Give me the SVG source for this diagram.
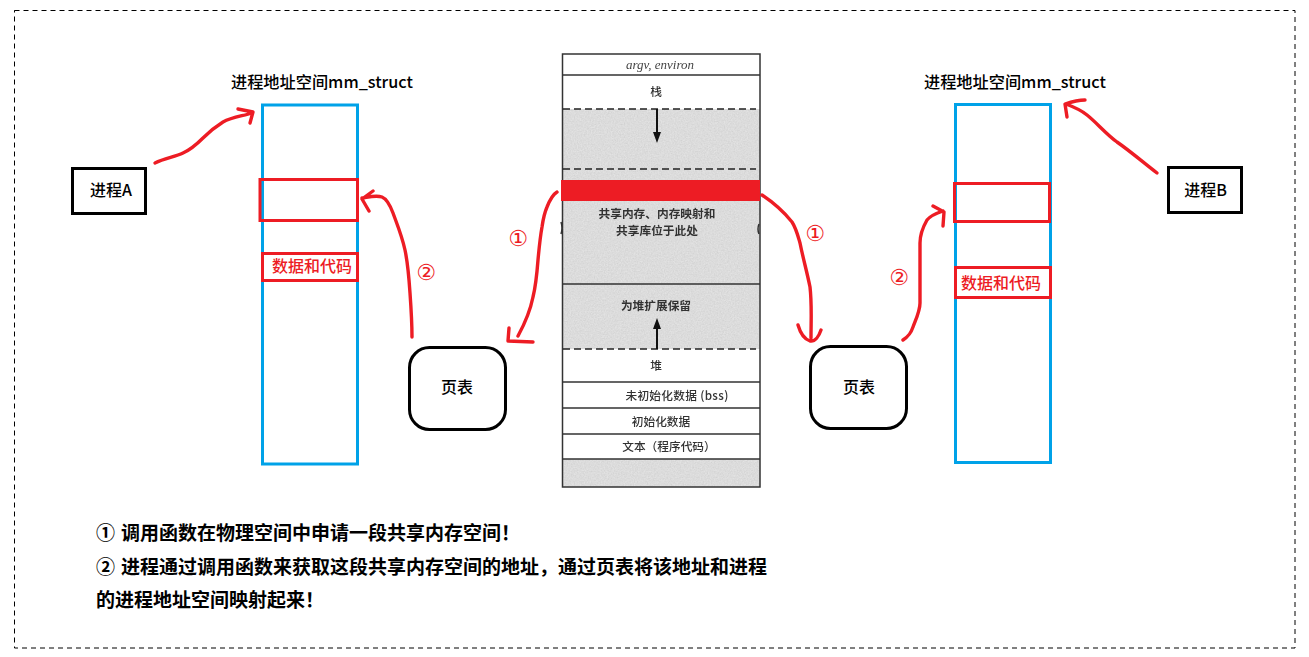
<svg xmlns="http://www.w3.org/2000/svg" width="1309" height="657" viewBox="0 0 1309 657">
<defs>
<filter id="grain" x="0" y="0" width="100%" height="100%">
<feTurbulence type="fractalNoise" baseFrequency="0.7" numOctaves="2" seed="4"/>
<feColorMatrix type="matrix" values="0 0 0 0 0.5  0 0 0 0 0.5  0 0 0 0 0.5  0.5 0.5 0 0 -0.32"/>
<feComposite in2="SourceGraphic" operator="in" result="n"/>
<feGaussianBlur in="n" stdDeviation="0.5" result="b"/>
<feMerge><feMergeNode in="SourceGraphic"/><feMergeNode in="b"/></feMerge>
</filter>
<filter id="soft" x="-5%" y="-20%" width="110%" height="140%"><feGaussianBlur stdDeviation="0.35"/></filter>
<style>
text{font-family:"Noto Sans CJK SC","Noto Sans",sans-serif;}
.t{font-size:16.2px;font-weight:500;fill:#000;}
.lab{font-size:16px;font-weight:500;fill:#000;text-anchor:middle;}
.red{font-size:16px;font-weight:500;fill:#ed1c24;text-anchor:middle;}
.num{font-size:22px;fill:#ed1c24;text-anchor:middle;font-family:"DejaVu Sans",sans-serif;}
.note{font-size:19px;font-weight:700;fill:#000;}
.bk{font-size:11.7px;font-weight:500;fill:#333;text-anchor:middle;}
.bb{font-weight:700;}
.blue{fill:#fff;stroke:#00a2e8;stroke-width:3;}
.rbox{fill:none;stroke:#ed1c24;stroke-width:3;}
.pbox{fill:#fff;stroke:#000;stroke-width:3;}
.pg{fill:#fff;stroke:#000;stroke-width:3;}
.ln{stroke:#333;stroke-width:1.5;fill:none;}
.ds{stroke:#222;stroke-width:1.5;fill:none;stroke-dasharray:7 4;}
.arr{fill:none;stroke:#ed1c24;stroke-width:3.4;stroke-linecap:round;stroke-linejoin:round;}
</style>
</defs>
<rect id="frame" x="14.5" y="10.500" width="1280.500" height="637.500" fill="none" stroke="#000" stroke-dasharray="5 4"/>

<g id="memory-map">
<rect x="562.500" y="54" width="197.500" height="433" fill="#fff"/>
<rect x="563" y="109" width="197" height="240" fill="#e2e2e2" filter="url(#grain)"/>
<rect x="563" y="459" width="197" height="28" fill="#e2e2e2" filter="url(#grain)"/>
<rect x="562.500" y="54" width="197.500" height="433" fill="none" stroke="#333" stroke-width="1.500"/>
<path class="ln" d="M563 75H760M563 284H760M563 382H760M563 408H760M563 434H760M563 459H760"/>
<path class="ds" d="M563 109H756M563 169H756M563 349H756"/>
<path d="M657 109V134" stroke="#111" stroke-width="2" fill="none"/>
<path d="M653 132H661L657 143Z" fill="#111"/>
<path d="M657 349V326" stroke="#111" stroke-width="2" fill="none"/>
<path d="M653 329H661L657 318Z" fill="#111"/>
<path d="M561 222Q563 228 561 234M759 224Q757 229 759 234" fill="none" stroke="#333" stroke-width="1.500"/>
<g filter="url(#soft)">
<text x="660" y="69" font-size="13" font-style="italic" fill="#444" text-anchor="middle" style="font-family:'Liberation Serif',serif">argv, environ</text>
<text class="bk" x="656" y="96">栈</text>
<text class="bk bb" x="657" y="218">共享内存、内存映射和</text>
<text class="bk bb" x="657" y="235">共享库位于此处</text>
<text class="bk bb" x="656" y="310">为堆扩展保留</text>
<text class="bk" x="656" y="370">堆</text>
<text class="bk" x="677" y="400" letter-spacing="0.3">未初始化数据 (bss)</text>
<text class="bk" x="661" y="426">初始化数据</text>
<text class="bk" x="669" y="451">文本（程序代码）</text>
</g>
<rect x="561" y="180" width="199" height="21" fill="#ed1c24"/>
</g>

<g id="space-a">
<text class="t" x="231" y="88">进程地址空间mm_struct</text>
<rect class="blue" x="262.500" y="105" width="95" height="359"/>
<rect class="rbox" x="260" y="179.500" width="97.500" height="41"/>
<rect class="rbox" x="262.500" y="253.500" width="95" height="27"/>
<text class="red" x="312" y="272">数据和代码</text>
</g>

<g id="space-b">
<text class="t" x="924" y="88">进程地址空间mm_struct</text>
<rect class="blue" x="955.500" y="104.500" width="95" height="358"/>
<rect class="rbox" x="954.500" y="183.500" width="95" height="38"/>
<rect class="rbox" x="955.500" y="267.500" width="95" height="30"/>
<text class="red" x="1001" y="289">数据和代码</text>
</g>

<g id="process-a"><rect class="pbox" x="72.500" y="168.500" width="73" height="45"/><text class="lab" x="111" y="196">进程A</text></g>
<g id="process-b"><rect class="pbox" x="1168.500" y="167.500" width="73" height="45"/><text class="lab" x="1205.500" y="196">进程B</text></g>
<g id="page-table-a"><rect class="pg" x="409.500" y="347.500" width="96" height="82" rx="20"/><text class="lab" x="457" y="393">页表</text></g>
<g id="page-table-b"><rect class="pg" x="810.500" y="346.500" width="96" height="82" rx="20"/><text class="lab" x="859" y="393">页表</text></g>

<g id="connectors">
<path class="arr" d="M155 163C165 158 175 157 183 153C192 149 197 144 203 138C210 131 215 127 223 122C232 117 243 116 252 113M238 109L253 112L250 123"/>
<path class="arr" d="M412 337C412 322 411 307 410 293C409 278 408 264 405 250C402 236 397 224 393 213C390 205 387 199 382 197C376 195 369 197 362 198M373 191L362 199L369 211"/>
<path class="arr" d="M1157 173C1144 163 1130 151 1117 142C1106 134 1097 123 1087 115C1081 110 1074 107 1066 104M1085 100C1078 100 1071 102 1065 104L1067 117"/>
<path class="arr" d="M557 192C552 195 549 202 547 207C544 214 543 220 542 227C540 238 539 249 538 260C537 273 536 285 533 297C530 312 524 325 518 336M509 328L508 341L533 342"/>
<path class="arr" d="M762 195C771 201 784 212 792 222C796 228 798 236 800 243C803 258 807 272 810 287C812 304 811 321 811 338M798 325C800 332 804 339 810 341C815 342 819 336 821 330"/>
<path class="arr" d="M903 340C909 336 911 333 913 327C916 319 920 311 920 303V243C920 236 923 227 927 220C931 215 937 213 943 211M933 206L944 212L943 226"/>
</g>

<g id="markers">
<text class="num" x="518" y="245.500">①</text>
<text class="num" x="815" y="240.500">①</text>
<text class="num" x="426" y="279.500">②</text>
<text class="num" x="899" y="284.500">②</text>
</g>

<g id="notes">
<text class="note" x="96" y="540">①<tspan x="121">调用函数在物理空间中申请一段共享内存空间！</tspan></text>
<text class="note" x="96" y="574">②<tspan x="121">进程通过调用函数来获取这段共享内存空间的地址，通过页表将该地址和进程</tspan></text>
<text class="note" x="96" y="607">的进程地址空间映射起来！</text>
</g>
</svg>
